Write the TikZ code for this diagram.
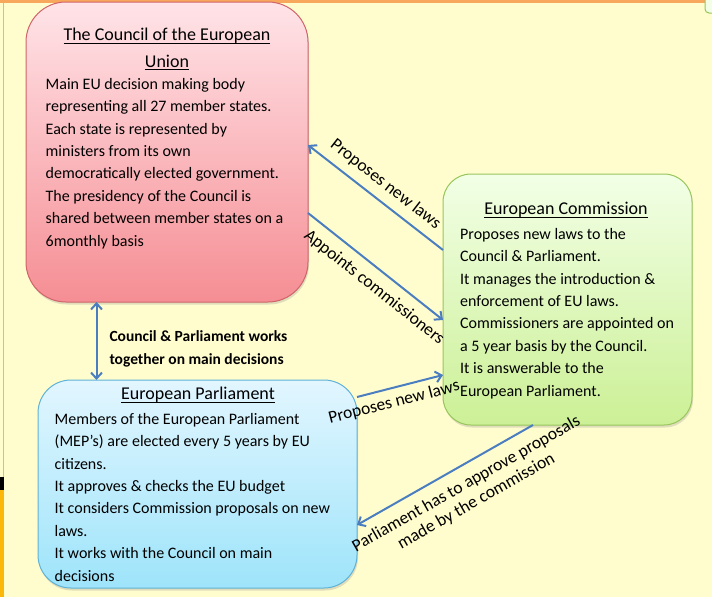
\documentclass[tikz,border=0pt]{standalone}
\usepackage{fontspec}
\setmainfont{Carlito}
\usetikzlibrary{arrows.meta, shadows, positioning}

\definecolor{paper}{RGB}{255,253,206}
\definecolor{frameorange}{RGB}{247,168,92}
\definecolor{edgeamber}{RGB}{252,184,10}
\definecolor{linkblue}{RGB}{74,126,192}
\definecolor{councildraw}{RGB}{208,100,106}
\definecolor{counciltop}{RGB}{255,228,232}
\definecolor{councilbottom}{RGB}{245,142,148}
\definecolor{commdraw}{RGB}{152,198,92}
\definecolor{commtop}{RGB}{242,255,230}
\definecolor{commbottom}{RGB}{204,240,150}
\definecolor{parldraw}{RGB}{96,178,214}
\definecolor{parltop}{RGB}{226,246,255}
\definecolor{parlbottom}{RGB}{158,228,250}

% heading with the rule at a fixed depth under the baseline
\newcommand{\boxtitle}[1]{\setbox0\hbox{#1}\rlap{\rule[-3pt]{\wd0}{0.9pt}}\box0}

\tikzset{
  body/.style={draw, line width=1pt, outer sep=0pt,
    drop shadow={opacity=0.25, shadow xshift=1pt, shadow yshift=-2.5pt}},
  heading/.style={inner sep=0pt, align=center, anchor=north,
    font=\fontsize{18}{26.5}\selectfont},
  bodytext/.style={inner sep=0pt, align=left, anchor=north west,
    font=\fontsize{16}{22.4}\selectfont},
  link/.style={draw=linkblue, line width=2pt, ->},
  linklabel/.style={inner sep=0pt, sloped, font=\fontsize{17.5}{20}\selectfont},
}

\begin{document}
\begin{tikzpicture}[x=1pt, y=-1pt, >={Straight Barb[length=6pt, width=11pt]}]
  \useasboundingbox (0,0) rectangle (712,597);
  % page and the strips along its edges
  \fill[paper] (0,0) rectangle (712,597);
  \fill[frameorange] (0,0) rectangle (712,3);
  \draw[black!25, line width=1pt] (3,3) -- (3,477);
  \fill[black] (0,477) rectangle (4,490);
  \fill[edgeamber] (0,490) rectangle (4,597);
  \filldraw[fill=commtop, draw=commdraw, line width=1pt, rounded corners=4pt] (705,-6) rectangle (718,13);

  % the three bodies
  \node[body, draw=councildraw, top color=counciltop, bottom color=councilbottom,
    rounded corners=40pt, minimum width=282pt, minimum height=300pt] (council) at (167,152) {};
  \node[body, draw=commdraw, top color=commtop, bottom color=commbottom,
    rounded corners=28pt, minimum width=249pt, minimum height=251pt] (commission) at (567.5,299.5) {};
  \node[body, draw=parldraw, top color=parltop, bottom color=parlbottom,
    rounded corners=33pt, minimum width=319pt, minimum height=208pt] (parliament) at (197.5,484) {};

  \node[heading] (council title) at (167,28)
    {\boxtitle{The Council of the European}\\\boxtitle{Union}};
  \node[bodytext] (council text) at (45.5,78)
    {Main EU decision making body\\
     representing all 27 member states.\\
     Each state is represented by\\
     ministers from its own\\
     democratically elected government.\\
     The presidency of the Council is\\
     shared between member states on a\\
     6monthly basis};

  \node[heading] (commission title) at (566,202) {\boxtitle{European Commission}};
  \node[bodytext] (commission text) at (460,228)
    {Proposes new laws to the\\
     Council \& Parliament.\\
     It manages the introduction \&\\
     enforcement of EU laws.\\
     Commissioners are appointed on\\
     a 5 year basis by the Council.\\
     It is answerable to the\\
     European Parliament.};

  \node[heading] (parliament title) at (198,387) {\boxtitle{European Parliament}};
  \node[bodytext] (parliament text) at (54.5,413)
    {Members of the European Parliament\\
     (MEP's) are elected every 5 years by EU\\
     citizens.\\
     It approves \& checks the EU budget\\
     It considers Commission proposals on new\\
     laws.\\
     It works with the Council on main\\
     decisions};

  % links between the bodies
  \draw[link] ([yshift=49.5pt]commission.west)
    -- node[linklabel, above=8pt] (proposes label) {Proposes new laws}
    ([yshift=7pt]council.east);
  \draw[link] ([yshift=-61pt]council.east)
    -- node[linklabel, pos=0.57, below=9pt] (appoints label) {Appoints commissioners}
    ([yshift=-20.5pt]commission.west);
  \draw[link] ([yshift=87pt]parliament.east)
    -- node[linklabel, pos=0.39, below=6pt] (laws label) {Proposes new laws}
    ([yshift=-75.5pt]commission.west);
  \draw[link] ([xshift=-34.5pt]commission.south)
    -- node[linklabel, align=center, pos=0.43, below=10pt] (approve label)
       {Parliament has to approve proposals\\made by the commission}
    ([yshift=-41pt]parliament.east);
  \draw[link, <->] ([xshift=-70.5pt]council.south)
    -- node[pos=0.6, right=12pt, inner sep=0pt, align=left,
            font=\bfseries\fontsize{15.5}{23}\selectfont] (together label)
       {Council \& Parliament works\\together on main decisions}
    ([xshift=-101pt]parliament.north);
\end{tikzpicture}
\end{document}
